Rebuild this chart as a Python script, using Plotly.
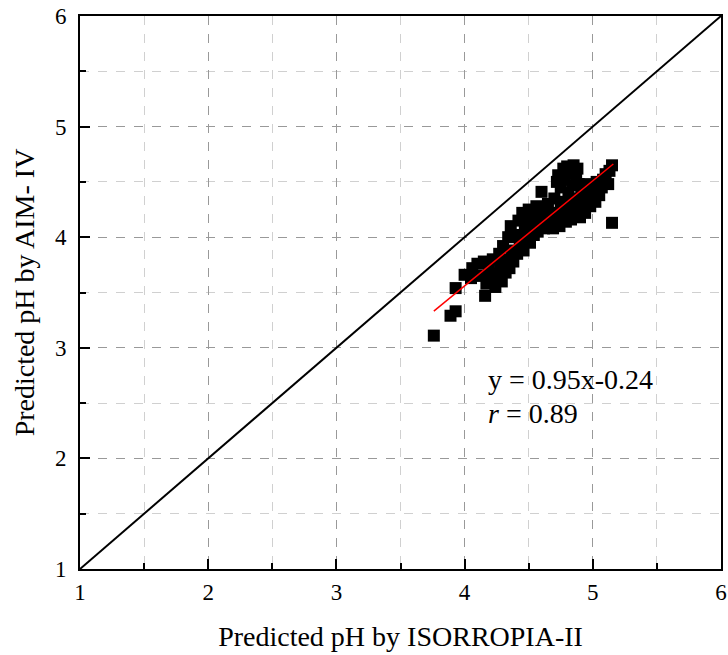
import plotly.graph_objects as go

# ISORROPIA-II predicted pH (x) vs AIM-IV predicted pH (y)
iso_ph = [3.76, 3.89, 3.93, 3.93, 4.16,
          4.00, 4.05, 4.06, 4.10, 4.12,
          4.15, 4.17, 4.19, 4.20, 4.22,
          4.24, 4.25, 4.27, 4.28, 4.29,
          4.30, 4.32, 4.33, 4.34, 4.35,
          4.36, 4.37, 4.38, 4.40, 4.41, 4.42,
          4.43, 4.45, 4.46, 4.47, 4.48, 4.49,
          4.50, 4.51, 4.52, 4.54, 4.55, 4.56,
          4.57, 4.58, 4.60, 4.61, 4.62, 4.63,
          4.65, 4.66, 4.68, 4.69, 4.70, 4.71,
          4.72, 4.73, 4.75, 4.77, 4.78, 4.80, 4.81, 4.82, 4.84, 4.85, 4.87, 4.88, 4.89,
          4.74, 4.75, 4.76, 4.78, 4.79, 4.80, 4.82, 4.83, 4.85, 4.86, 4.88, 4.90,
          4.91, 4.92, 4.94, 4.95, 4.96, 4.98, 5.00,
          5.02, 5.03, 5.05, 5.07, 5.08, 5.10, 5.12, 5.13, 5.15, 5.15]
aim_ph = [3.11, 3.29, 3.33, 3.54, 3.47,
          3.66, 3.63, 3.72, 3.76, 3.65,
          3.78, 3.58, 3.70, 3.62, 3.80,
          3.55, 3.67, 3.85, 3.75, 3.60,
          3.92, 3.68, 3.80, 4.00, 3.72,
          4.10, 3.88, 3.78, 4.02, 3.85, 4.15,
          3.95, 4.22, 3.88, 4.08, 3.98, 4.18,
          4.25, 3.95, 4.10, 4.02, 4.20, 4.28,
          4.05, 4.15, 4.41, 4.24, 4.08, 4.18,
          4.30, 4.12, 4.22, 4.08, 4.35, 4.15,
          4.50, 4.56, 4.45, 4.62, 4.52, 4.64, 4.40, 4.58, 4.47, 4.65, 4.55, 4.62, 4.48,
          4.10, 4.25, 4.18, 4.32, 4.14, 4.22, 4.28, 4.16, 4.35, 4.20, 4.26, 4.18,
          4.40, 4.30, 4.22, 4.48, 4.35, 4.28, 4.42,
          4.32, 4.50, 4.38, 4.45, 4.52, 4.57, 4.48, 4.60, 4.65, 4.13]

# 1:1 line and linear fit
one_to_one = [1, 6]
fit_x = [3.76, 5.16]
fit_slope = 0.95
fit_intercept = -0.24
fit_y = [fit_slope * v + fit_intercept for v in fit_x]

eq_text = "y = 0.95x-0.24"
r_text = "<i>r</i> = 0.89"

tick_vals = [1, 2, 3, 4, 5, 6]

FONT = "Liberation Serif"

fig = go.Figure()
fig.add_trace(go.Scatter(x=one_to_one, y=one_to_one, mode="lines",
                         line=dict(color="black", width=2), showlegend=False))
fig.add_trace(go.Scatter(x=iso_ph, y=aim_ph, mode="markers",
                         marker=dict(symbol="square", size=12, color="black",
                                     line=dict(width=0)),
                         showlegend=False))
fig.add_trace(go.Scatter(x=fit_x, y=fit_y, mode="lines",
                         line=dict(color="#ff0000", width=1.5), showlegend=False))

fig.add_annotation(x=4.17, y=2.71, text=eq_text, showarrow=False, xanchor="left",
                   font=dict(family=FONT, size=28, color="black"))
fig.add_annotation(x=4.17, y=2.41, text=r_text, showarrow=False, xanchor="left",
                   font=dict(family=FONT, size=28, color="black"))

axis_common = dict(
    range=[1, 6], tickvals=tick_vals, ticks="inside", ticklen=10, tickwidth=2,
    tickcolor="black", showline=True, linecolor="black", linewidth=2, mirror=True,
    showgrid=True, gridcolor="#999999", griddash="dash", gridwidth=1,
    zeroline=False, automargin=False,
    tickfont=dict(family=FONT, size=23, color="black"),
    minor=dict(dtick=0.5, ticks="inside", ticklen=6, tickwidth=2, tickcolor="black",
               showgrid=True, gridcolor="#d0d0d0", griddash="dash", gridwidth=1),
)

fig.update_xaxes(**axis_common, ticklabelstandoff=1,
                 title=dict(text="Predicted pH by ISORROPIA-II",
                            font=dict(family=FONT, size=28, color="black"), standoff=23))
fig.update_yaxes(**axis_common, ticklabelstandoff=7,
                 title=dict(text="Predicted pH by AIM- IV",
                            font=dict(family=FONT, size=28, color="black"), standoff=12))

fig.update_layout(
    width=728, height=655,
    margin=dict(l=80, r=7, t=16, b=86),
    plot_bgcolor="white", paper_bgcolor="white",
    hovermode=False,
)

# remove the browser's default 8px body margin so the figure fills the window
fig.write_html("out.html",
               config={"displayModeBar": False},
               post_script="document.body.style.margin='0';document.body.style.overflow='hidden';")
